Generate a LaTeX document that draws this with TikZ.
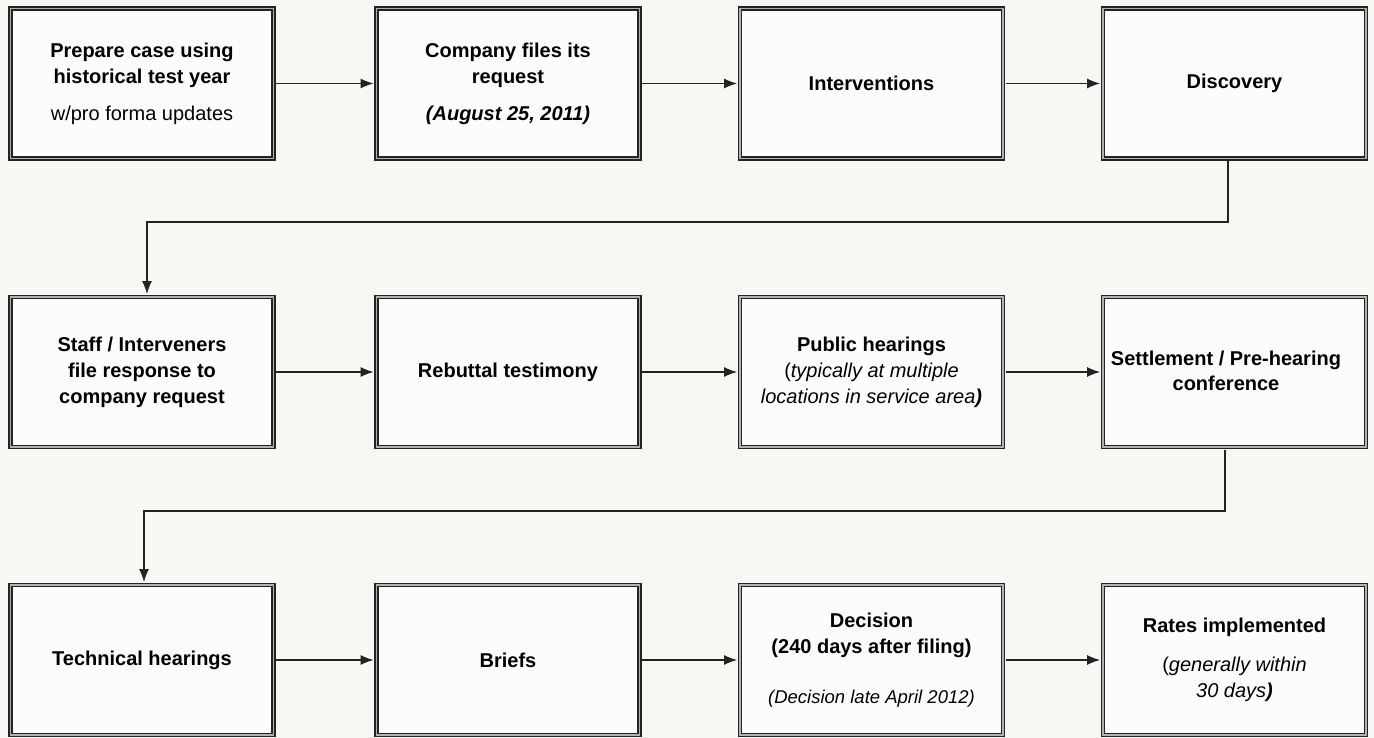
\documentclass[tikz,border=0pt]{standalone}
\usepackage{fontspec}
\setmainfont{Liberation Sans}
\usetikzlibrary{arrows.meta}
\definecolor{bgc}{RGB}{248,247,244}
\definecolor{boxfill}{RGB}{252,252,251}
\definecolor{edge}{RGB}{35,35,35}
\tikzset{
  stepbox/.style={rectangle, draw=edge, line width=1.5pt, double=gray!60, double distance=1.9pt,
    fill=boxfill, minimum width=263pt, minimum height=150pt, inner sep=0pt, align=center,
    font=\fontsize{20}{26}\selectfont},
  arr/.style={draw=edge, line width=1.1pt, -{Latex[length=13pt,width=10pt]}, shorten >=2.2pt, shorten <=2.2pt}
}
\begin{document}
\begin{tikzpicture}[x=1pt,y=-1pt]
\fill[bgc] (0,0) rectangle (1374,738);
\useasboundingbox (0,0) rectangle (1374,738);
% row 1
\node[stepbox] (a1) at (142,83.5) {\textbf{Prepare case using}\\\textbf{historical test year}\\[11pt]w/pro forma updates};
\node[stepbox] (a2) at (508,83.5) {\textbf{Company files its}\\\textbf{request}\\[11pt]\textbf{\itshape (August 25, 2011)}};
\node[stepbox] (a3) at (871.5,83.5) {\textbf{Interventions}};
\node[stepbox] (a4) at (1234.5,83.5) {\textbf{Discovery}};
% row 2
\node[stepbox] (b1) at (142,372) {\textbf{Staff / Interveners}\\\textbf{file response to}\\\textbf{company request}};
\node[stepbox] (b2) at (508,372) {\textbf{Rebuttal testimony}};
\node[stepbox] (b3) at (871.5,372) {\fontsize{20}{25}\selectfont\textbf{Public hearings}\\(\textit{typically at multiple}\\\textit{locations in service area}\textbf{\itshape )}};
\node[stepbox] (b4) at (1234.5,372) {};
\node[font=\fontsize{20}{25}\selectfont, align=center] (b4t) at (1226,371) {\textbf{Settlement / Pre-hearing}\\\textbf{conference}};
% row 3
\node[stepbox] (c1) at (142,660) {\textbf{Technical hearings}};
\node[stepbox] (c2) at (508,660) {\textbf{Briefs}};
\node[stepbox] (c3) at (871.5,660) {\textbf{Decision}\\\textbf{(240 days after filing)}\\[24pt]{\fontsize{18.5}{22}\selectfont\itshape (Decision late April 2012)}};
\node[stepbox] (c4) at (1234.5,660) {\textbf{Rates implemented}\\[13pt](\textit{generally within}\\\textit{30 days}\textbf{\itshape )}};
% connectors
\draw[arr] (a1.east) -- (a2.west);
\draw[arr] (a2.east) -- (a3.west);
\draw[arr] (a3.east) -- (a4.west);
\draw[arr] (b1.east) -- (b2.west);
\draw[arr] (b2.east) -- (b3.west);
\draw[arr] (b3.east) -- (b4.west);
\draw[arr] (c1.east) -- (c2.west);
\draw[arr] (c2.east) -- (c3.west);
\draw[arr] (c3.east) -- (c4.west);
\coordinate (k1) at (1228,222);
\coordinate (k2) at (147,222);
\coordinate (k3) at (1225,511);
\coordinate (k4) at (144,511);
\draw[arr] (a4.south -| k1) -- (k1) -- (k2) -- (b1.north -| k2);
\draw[arr] (b4.south -| k3) -- (k3) -- (k4) -- (c1.north -| k4);
\end{tikzpicture}
\end{document}
